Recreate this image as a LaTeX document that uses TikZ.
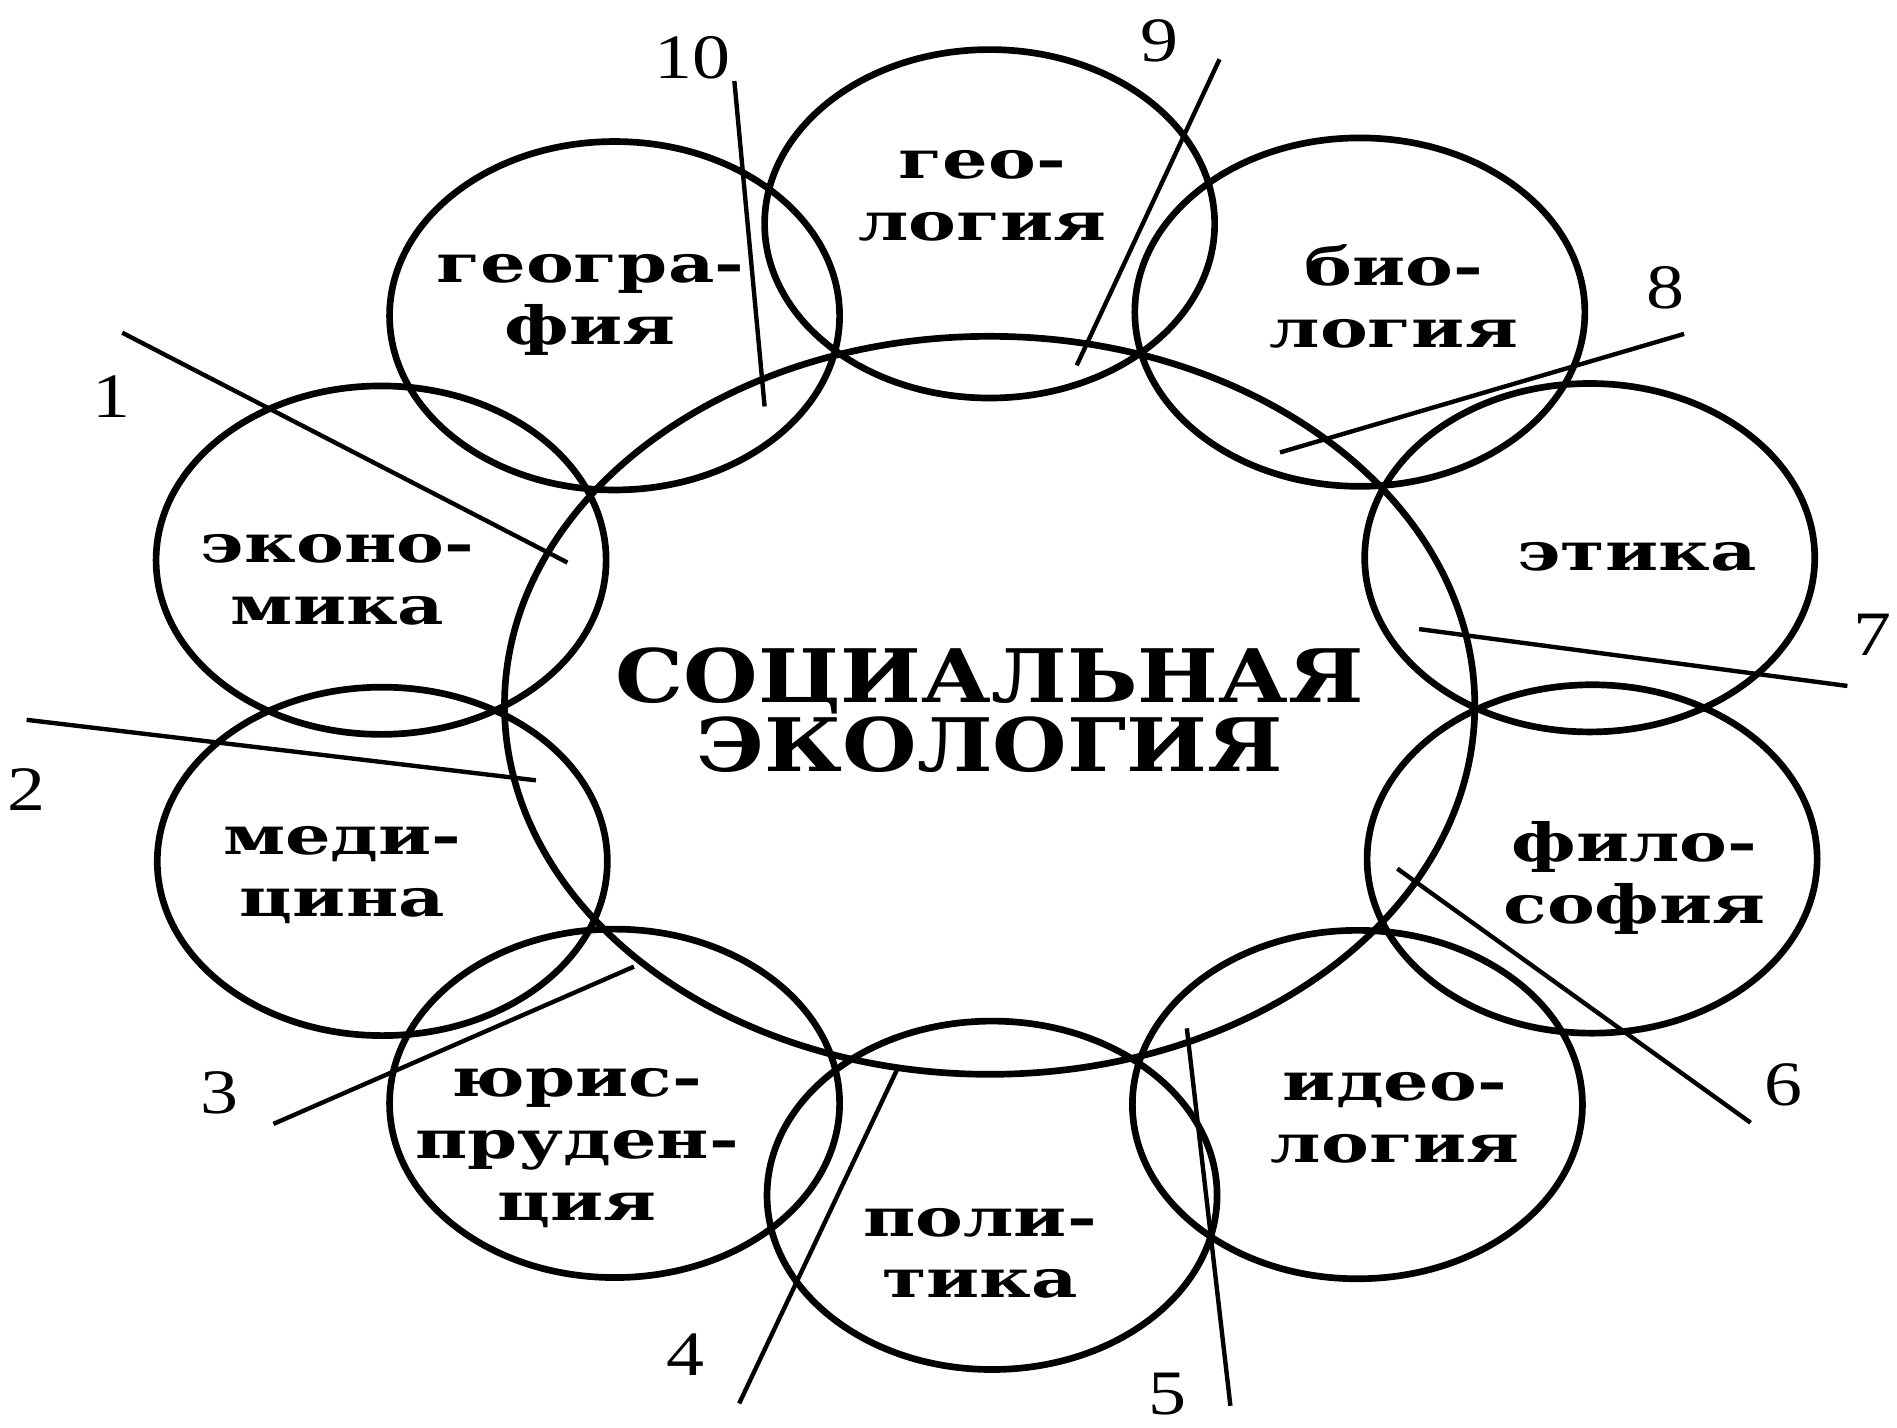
\documentclass[tikz,border=0pt]{standalone}
\usepackage{fontspec}
\newfontfamily\labfont[FakeStretch=1.36]{DejaVu Serif}
\newfontfamily\ttlfont[FakeStretch=1.16]{DejaVu Serif}
\newfontfamily\numfont[FakeStretch=1.2]{Liberation Serif}
\usetikzlibrary{calc}

\begin{document}
\begin{tikzpicture}[x=0.12098mm, y=-0.12098mm,
    ring/.style={line width=1.9pt},
    ptr/.style={line width=1.25pt},
    sci/.style={align=center, inner sep=0pt, font=\labfont\bfseries\fontsize{15}{17.6}\selectfont},
    ttl/.style={align=center, inner sep=0pt, font=\ttlfont\bfseries\fontsize{21}{19.4}\selectfont},
    num/.style={inner sep=0pt, font=\numfont\fontsize{18}{20}\selectfont}]
    \useasboundingbox (0,0) rectangle (1568,1180);
    % central field
    \coordinate (c) at (818,583);
    \draw[ring] (c) ellipse [x radius=401, y radius=305];
    \node[ttl] (title) at (818,587) {СОЦИАЛЬНАЯ\\ЭКОЛОГИЯ};
    % neighbouring sciences
    \foreach \nm/\cx/\cy/\tx/\ty/\txt in {
        geol/818/185/812/162/{гео-\\логия},
        biol/1124/258/1152/245/{био-\\логия},
        ethi/1314/461/1353/460/{этика},
        phil/1316/710/1351/726/{фило-\\софия},
        ideo/1122/913/1153/924/{идео-\\логия},
        poli/820/988/810/1036/{поли-\\тика},
        juri/508/912/477/949/{юрис-\\пруден-\\ция},
        medi/316/712/283/723/{меди-\\цина},
        econ/315/463/279/479/{эконо-\\мика},
        geog/508/261/488/252/{геогра-\\фия}} {
        \draw[ring] (\cx,\cy) ellipse [x radius=186, y radius=144];
        \node[sci] (\nm) at (\tx,\ty) {\txt};
    }
    % numbered pointers
    \foreach \n/\sx/\sy/\ex/\ey/\lx/\ly in {
        1/101/275/469/465/92/328,
        2/22/595/443/645/22/653,
        3/226/929/524/799/181/903,
        4/611/1160/742/883/567/1120,
        5/1017/1162/981/850/965/1152,
        6/1447/928/1155/718/1474/897,
        7/1527/567/1173/520/1548/525,
        8/1392/276/1058/374/1377/238,
        9/1008/49/890/302/958/34,
        10/607/67/632/336/572/48} {
        \coordinate (s\n) at (\sx,\sy);
        \coordinate (e\n) at (\ex,\ey);
        \draw[ptr] (s\n) -- (e\n);
        \node[num] (n\n) at (\lx,\ly) {\n};
    }
\end{tikzpicture}
\end{document}
